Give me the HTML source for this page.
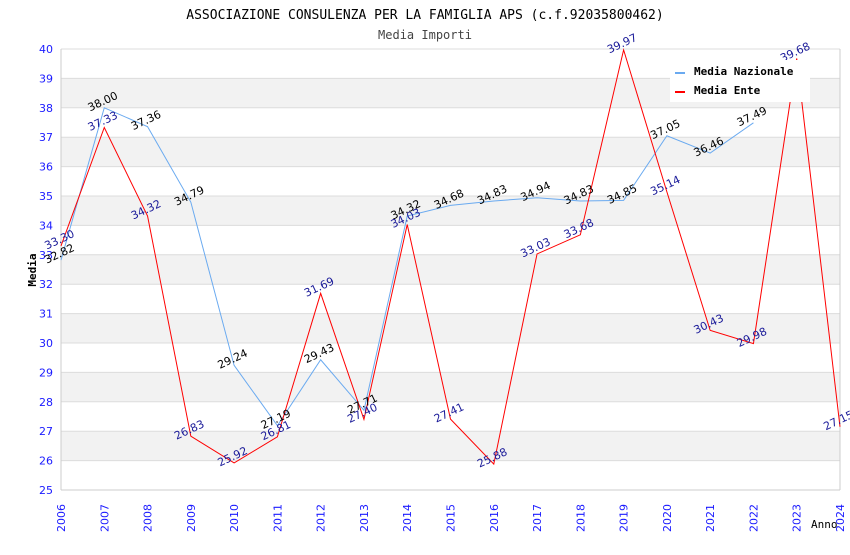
<!DOCTYPE html>
<html><head><meta charset="utf-8"><style>
body{margin:0;background:#fff;}
svg text{font-family:"DejaVu Sans Mono","Liberation Mono",monospace;}
svg text.sans{font-family:"DejaVu Sans","Liberation Sans",sans-serif;}
</style></head><body>
<svg id="chart" width="850" height="550">
<text x="425" y="19" text-anchor="middle" font-size="13">ASSOCIAZIONE CONSULENZA PER LA FAMIGLIA APS (c.f.92035800462)</text>
<text x="425" y="39" text-anchor="middle" font-size="12" fill="#444">Media Importi</text>
<g id="bands"></g><g id="grid"></g><g id="axes"></g><g id="lines"></g><g id="labels"></g>
<text x="36" y="270" transform="rotate(-90 36 270)" text-anchor="middle" font-size="11" font-weight="bold">Media</text>
<text x="811" y="528" font-size="11">Anno</text>
<g>
<rect x="670" y="60" width="140" height="42" fill="#fff"/>
<g><rect x="675" y="72" width="10" height="2" fill="#6aaaf0"/><text x="694" y="75" font-size="11" font-weight="bold">Media Nazionale</text></g>
<g><rect x="675" y="91" width="10" height="2" fill="#f00"/><text x="694" y="94" font-size="11" font-weight="bold">Media Ente</text></g>
</g>
</svg>
<script>
const years=[2006,2007,2008,2009,2010,2011,2012,2013,2014,2015,2016,2017,2018,2019,2020,2021,2022,2023,2024];
const nazionale=[32.82,38.00,37.36,34.79,29.24,27.19,29.43,27.71,34.32,34.68,34.83,34.94,34.83,34.85,37.05,36.46,37.49,null,null];
const ente=[33.30,37.33,34.32,26.83,25.92,26.81,31.69,27.40,34.03,27.41,25.88,33.03,33.68,39.97,35.14,30.43,29.98,39.68,27.15];
const yTicks=[25,26,27,28,29,30,31,32,33,34,35,36,37,38,39,40];
const NS="http://www.w3.org/2000/svg";
const X0=61,X1=840,Y0=490,Y1=49;
const xs=y=>X0+(y-years[0])/(years[years.length-1]-years[0])*(X1-X0);
const ys=v=>Y0-(v-25)/(40-25)*(Y0-Y1);
function mk(tag,attrs,parent){const e=document.createElementNS(NS,tag);for(const k in attrs)e.setAttribute(k,attrs[k]);document.getElementById(parent).appendChild(e);return e;}
for(let i=0;i<yTicks.length-1;i++){
 if(yTicks[i]%2===0){const r=mk('rect',{x:X0,y:ys(yTicks[i+1]),width:X1-X0,height:ys(yTicks[i])-ys(yTicks[i+1]),fill:'#f2f2f2'},'bands');
 
 }
}
yTicks.forEach(t=>{
 const l=mk('line',{x1:X0,x2:X1,y1:ys(t),y2:ys(t),stroke:'#dcdcdc'},'grid');
 
 
 const tx=mk('text',{x:X0-8,y:ys(t)+4,'text-anchor':'end','font-size':11,fill:'#1a1aff',class:'sans'},'axes');
 tx.textContent=t;
 
 
});
mk('line',{x1:X0,x2:X0,y1:Y1,y2:Y0,stroke:'#ccc'},'axes');
mk('line',{x1:X1,x2:X1,y1:Y1,y2:Y0,stroke:'#ccc'},'axes');
mk('line',{x1:X0,x2:X1,y1:Y0,y2:Y0,stroke:'#ccc'},'axes');
years.forEach(y=>{
 const x=xs(y);
 const tx=mk('text',{x:x+4,y:532,transform:`rotate(-90 ${x+4} 532)`,'font-size':11,fill:'#1a1aff',class:'sans'},'axes');
 tx.textContent=y;
 
 
});
function series(vals,color,labelColor,name){
 let d='';let started=false;
 vals.forEach((v,i)=>{if(v==null)return;d+=(started?'L':'M')+xs(years[i])+','+ys(v);started=true;});
 const p=mk('path',{d:d,fill:'none',stroke:color,'stroke-width':1},'lines');
 
 
 vals.forEach((v,i)=>{if(v==null)return;
  const x=xs(years[i]),y=ys(v)-3;
  const t=mk('text',{x:x,y:y,'text-anchor':'middle','font-size':11,fill:labelColor,class:'sans',transform:`rotate(-25 ${x} ${y})`},'labels');
  t.textContent=v.toFixed(2);
  
  
 });
}
series(nazionale,'#6aaaf0','#000','nazionale');
series(ente,'#f00','#1a1a99','ente');
</script>
</body></html>
